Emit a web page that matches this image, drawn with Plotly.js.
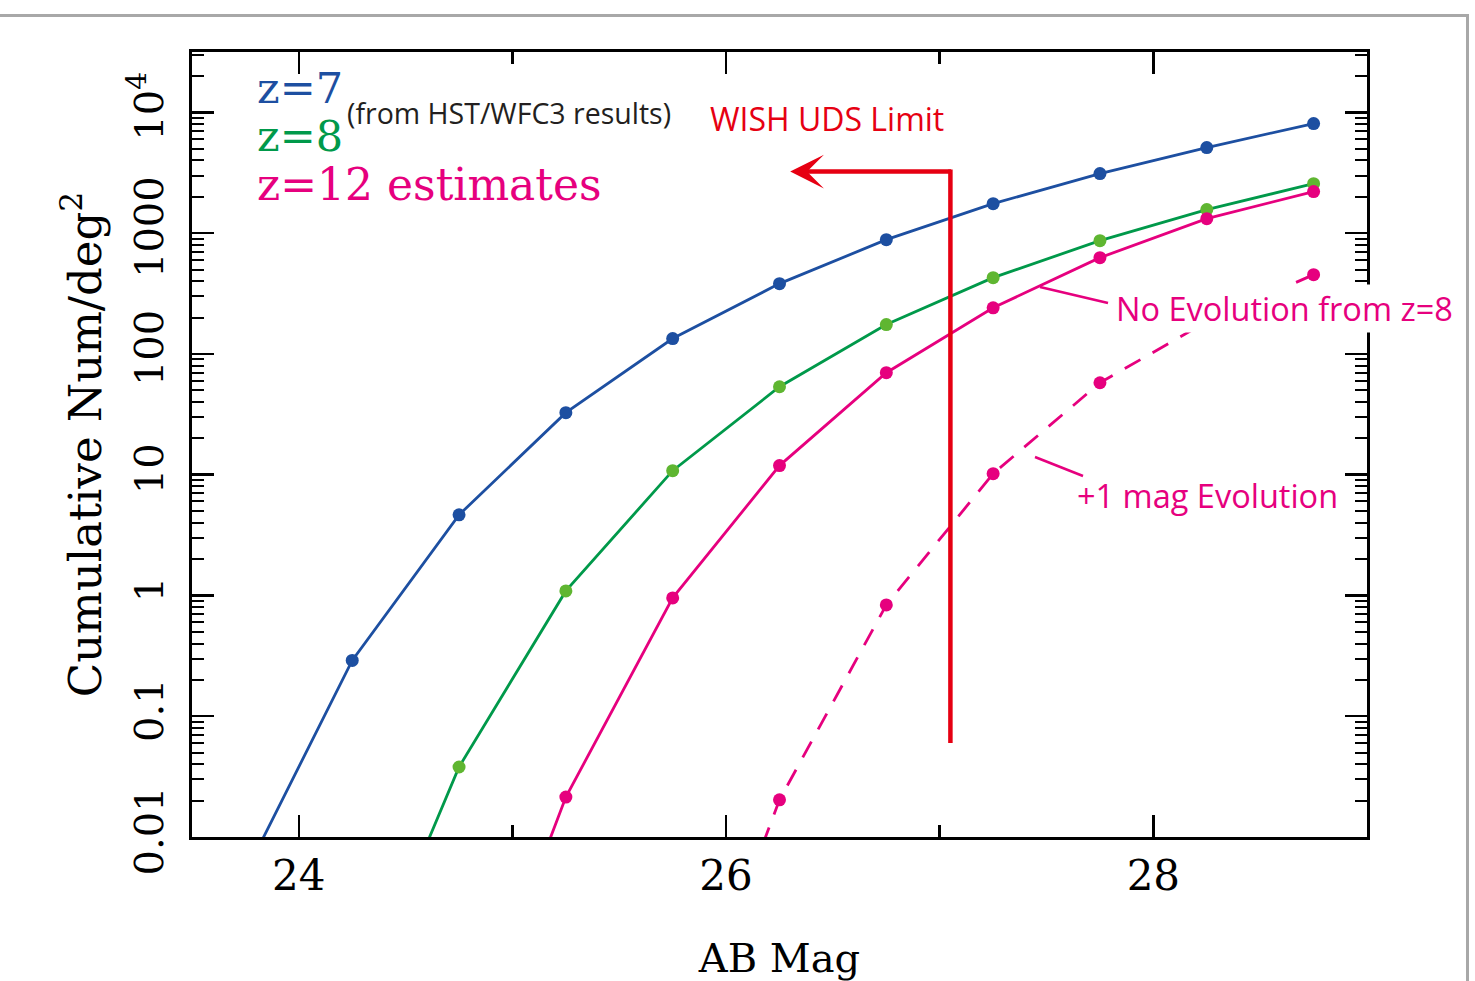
<!DOCTYPE html>
<html>
<head>
<meta charset="utf-8">
<script src="https://cdn.plot.ly/plotly-3.0.1.min.js"></script>
<style>
  html, body { margin: 0; padding: 0; background: #ffffff; }
  #wrap { position: relative; width: 1475px; height: 981px; overflow: hidden; background: #fff; }
  #frame { position: absolute; left: 0; top: 14px; width: 1466px; height: 980px;
           border-top: 3px solid #a8a8a8; border-right: 3px solid #a8a8a8; }
  #chart { position: absolute; left: 0; top: 0; width: 1475px; height: 981px; }
</style>
</head>
<body>
<div id="wrap">
  <div id="frame"></div>
  <div id="chart"></div>
</div>
<script>
// ---- data ----
const magZ7 = [23.75, 24.25, 24.75, 25.25, 25.75, 26.25, 26.75, 27.25, 27.75, 28.25, 28.75];
const numZ7 = [0.005, 0.29, 4.65, 32.6, 134, 382, 883, 1755, 3112, 5110, 8080];

const magZ8 = [24.25, 24.75, 25.25, 25.75, 26.25, 26.75, 27.25, 27.75, 28.25, 28.75];
const numZ8 = [0.0003, 0.038, 1.09, 10.8, 53.5, 175, 428, 867, 1567, 2570];

const magZ12NoEvo = [24.75, 25.25, 25.75, 26.25, 26.75, 27.25, 27.75, 28.25, 28.75];
const numZ12NoEvo = [0.0001, 0.0214, 0.955, 11.9, 69.9, 241, 627, 1318, 2208];

const magZ12Evo = [25.75, 26.25, 26.75, 27.25, 27.75, 28.25, 28.75];
const numZ12Evo = [0.00009, 0.0203, 0.835, 10.2, 57.7, 185, 453];

// WISH UDS limit bracket
const wishMag = [27.05, 27.05];
const wishNum = [0.06, 3360];
const wishArrowFrom = 27.06;
const wishArrowTo = 26.3;
const wishArrowNum = 3240;

const xTickVals = [24, 26, 28];
const xTickText = ['24', '26', '28'];
const xMinorVals = [25, 27];
const yTickVals = [0.01, 0.1, 1, 10, 100, 1000, 10000];
const yTickText = ['0.01', '0.1', '1', '10', '100', '1000', '10<sup>4</sup>'];

const BLUE = '#1d4fa1';
const GREEN = '#00994a';
const GREEN_MK = '#5fb631';
const MAGENTA = '#e6007e';
const RED = '#e60012';

const SERIF = 'DejaVu Serif, serif';
const SANS = 'Open Sans, Noto Sans, sans-serif';

const traces = [
  { x: magZ7, y: numZ7, mode: 'lines+markers', line: {color: BLUE, width: 2.8},
    marker: {color: BLUE, size: 13}, name: 'z=7' },
  { x: magZ8, y: numZ8, mode: 'lines+markers', line: {color: GREEN, width: 2.8},
    marker: {color: GREEN_MK, size: 13}, name: 'z=8' },
  { x: magZ12NoEvo, y: numZ12NoEvo, mode: 'lines+markers', line: {color: MAGENTA, width: 2.8},
    marker: {color: MAGENTA, size: 13}, name: 'z=12 no evolution' },
  { x: magZ12Evo, y: numZ12Evo, mode: 'lines+markers', line: {color: MAGENTA, width: 2.8, dash: '18px,14px'},
    marker: {color: MAGENTA, size: 13}, name: 'z=12 +1 mag' },
  { x: wishMag, y: wishNum, mode: 'lines', line: {color: RED, width: 4.5}, name: 'WISH UDS Limit',
    hoverinfo: 'skip' }
];

function px(p) { return (p - 192) / 1175; }
function py(p) { return (837 - p) / 785; }

const annotations = [
  { text: 'z=7', xref: 'paper', yref: 'paper', x: px(255), y: py(88), xanchor: 'left', yanchor: 'middle',
    showarrow: false, font: {family: SERIF, size: 43, color: BLUE} },
  { text: 'z=8', xref: 'paper', yref: 'paper', x: px(255), y: py(136), xanchor: 'left', yanchor: 'middle',
    showarrow: false, font: {family: SERIF, size: 43, color: GREEN} },
  { text: 'z=12 estimates', xref: 'paper', yref: 'paper', x: px(255), y: py(185), xanchor: 'left', yanchor: 'middle',
    showarrow: false, font: {family: SERIF, size: 44, color: MAGENTA} },
  { text: '(from HST/WFC3 results)', xref: 'paper', yref: 'paper', x: px(345), y: py(113), xanchor: 'left', yanchor: 'middle',
    showarrow: false, font: {family: SANS, size: 28.5, color: '#231f20'} },
  { text: 'WISH UDS Limit', xref: 'paper', yref: 'paper', x: px(708), y: py(119), xanchor: 'left', yanchor: 'middle',
    showarrow: false, font: {family: SANS, size: 32, color: RED} },
  { text: 'No Evolution from z=8', xref: 'paper', yref: 'paper', x: px(1114), y: py(308), xanchor: 'left', yanchor: 'middle',
    showarrow: false, bgcolor: '#ffffff', font: {family: SANS, size: 32.5, color: MAGENTA} },
  { text: '+1 mag Evolution', xref: 'paper', yref: 'paper', x: px(1075), y: py(495), xanchor: 'left', yanchor: 'middle',
    showarrow: false, font: {family: SANS, size: 32.5, color: MAGENTA} },
  { text: ' ', xref: 'x', yref: 'y', x: wishArrowTo, y: Math.log10(wishArrowNum),
    axref: 'x', ayref: 'y', ax: wishArrowFrom, ay: Math.log10(wishArrowNum),
    showarrow: true, arrowhead: 3, arrowwidth: 4.5, arrowsize: 1.25, arrowcolor: RED,
    font: {size: 1} }
];

const shapes = [
  { type: 'line', xref: 'paper', yref: 'paper', x0: px(1040), y0: py(287), x1: px(1108), y1: py(303),
    line: {color: MAGENTA, width: 2.5} },
  { type: 'line', xref: 'paper', yref: 'paper', x0: px(1035), y0: py(457), x1: px(1083), y1: py(476),
    line: {color: MAGENTA, width: 2.5} }
];

const layout = {
  width: 1475, height: 981,
  margin: {l: 192, r: 108, t: 52, b: 144, pad: 0},
  paper_bgcolor: 'rgba(0,0,0,0)', plot_bgcolor: 'rgba(0,0,0,0)',
  showlegend: false,
  xaxis: {
    range: [23.5, 29.0], tickmode: 'array', tickvals: xTickVals, ticktext: xTickText,
    ticks: 'inside', ticklen: 22, tickwidth: 2.5, tickcolor: '#000',
    showline: true, linewidth: 3, linecolor: '#000', mirror: 'ticks',
    showgrid: false, zeroline: false, ticklabelstandoff: 0,
    tickfont: {family: SERIF, size: 42, color: '#000'},
    minor: {tickmode: 'array', tickvals: xMinorVals, ticks: 'inside', ticklen: 12, tickwidth: 2.5, tickcolor: '#000', showgrid: false},
    title: {text: 'AB Mag', font: {family: SERIF, size: 40, color: '#000'}, standoff: 60}
  },
  yaxis: {
    type: 'log', range: [-2, 4.5], tickmode: 'array', tickvals: yTickVals, ticktext: yTickText,
    tickangle: -90,
    ticks: 'inside', ticklen: 22, tickwidth: 2.5, tickcolor: '#000',
    showline: true, linewidth: 3, linecolor: '#000', mirror: 'ticks',
    showgrid: false, zeroline: false, ticklabelstandoff: 10,
    tickfont: {family: SERIF, size: 40, color: '#000'},
    minor: {dtick: 'D1', ticks: 'inside', ticklen: 12, tickwidth: 2, tickcolor: '#000', showgrid: false},
    title: {text: 'Cumulative Num/deg<sup>2</sup>', font: {family: SERIF, size: 45, color: '#000'}, standoff: 5}
  },
  annotations: annotations,
  shapes: shapes
};

Plotly.newPlot('chart', traces, layout, {displayModeBar: false, staticPlot: true});
</script>
</body>
</html>
